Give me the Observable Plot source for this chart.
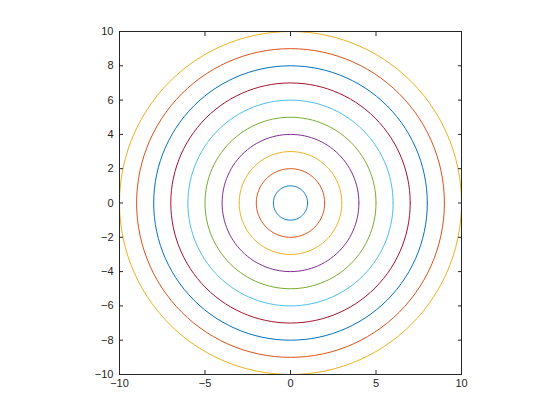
<!DOCTYPE html>
<html>
<head>
<meta charset="utf-8">
<script src="https://cdn.jsdelivr.net/npm/d3@7"></script>
<script src="https://cdn.jsdelivr.net/npm/@observablehq/plot@0.6"></script>
<style>
  html, body { margin: 0; padding: 0; background: #fff; }
  svg { display: block; }
</style>
</head>
<body>
<div id="chart"></div>
<script>
// Contour levels (circle radii) and their line colours (Octave default colour order)
const radii = [1, 2, 3, 4, 5, 6, 7, 8, 9, 10];
const colors = ["#0072BD", "#D95319", "#EDB120", "#7E2F8E", "#77AC30",
                "#4DBEEE", "#A2142F", "#0072BD", "#D95319", "#EDB120"];
const xTicks = [-10, -5, 0, 5, 10];
const yTicks = [-10, -8, -6, -4, -2, 0, 2, 4, 6, 8, 10];

// Build each circle outline from its radius
const steps = 120;
const pts = [];
radii.forEach((r, i) => {
  for (let k = 0; k <= steps; k++) {
    const a = (2 * Math.PI * k) / steps;
    pts.push({ level: r, x: r * Math.cos(a), y: r * Math.sin(a), c: colors[i] });
  }
});

const ink = "#262626";
const font = "Liberation Sans, Arial, sans-serif";

const chart = Plot.plot({
  width: 560,
  height: 420,
  marginLeft: 119,
  marginRight: 99,
  marginTop: 31,
  marginBottom: 46,
  x: { domain: [-10, 10] },
  y: { domain: [-10, 10] },
  style: { fontFamily: font, fontSize: "11px", color: ink, background: "#fff" },
  marks: [
    Plot.line(pts, { x: "x", y: "y", z: "level", stroke: "c", strokeWidth: 1 }),
    Plot.frame({ stroke: ink, strokeWidth: 1 }),
    // inward ticks on all four sides
    Plot.axisX(xTicks, { anchor: "bottom", text: null, tickSize: 4, dy: -4, stroke: ink, label: null }),
    Plot.axisX(xTicks, { anchor: "top", text: null, tickSize: 4, dy: 4, stroke: ink, label: null }),
    Plot.axisY(yTicks, { anchor: "left", text: null, tickSize: 4, dx: 4, stroke: ink, label: null }),
    Plot.axisY(yTicks, { anchor: "right", text: null, tickSize: 4, dx: -4, stroke: ink, label: null }),
    // tick labels
    Plot.axisX(xTicks, { anchor: "bottom", tickSize: 0, tickPadding: 5, label: null, fill: ink }),
    Plot.axisY(yTicks, { anchor: "left", tickSize: 0, tickPadding: 6, label: null, fill: ink })
  ]
});

document.getElementById("chart").appendChild(chart);
</script>
</body>
</html>
